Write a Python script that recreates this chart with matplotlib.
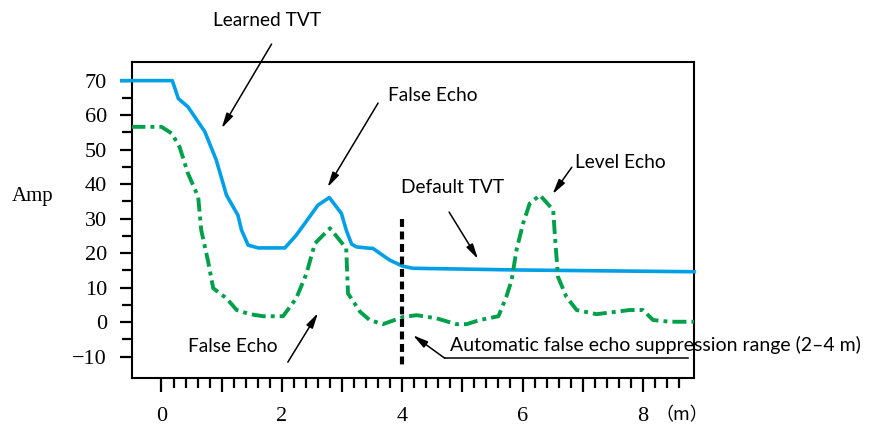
import numpy as np
from matplotlib import pyplot as plt
from matplotlib.ticker import FixedLocator, NullFormatter

# learned TVT (solid blue)
tvt_x = [-0.66, 0.18, 0.28, 0.44, 0.72, 0.91, 1.08, 1.27, 1.33, 1.44, 1.61, 2.05,
         2.24, 2.44, 2.6, 2.79, 2.99, 3.07, 3.16, 3.24, 3.46, 3.51, 3.79, 4.01,
         4.18, 5.96, 8.85]
tvt_y = [70, 70, 64.8, 62.4, 55.2, 47, 36.8, 31, 26.7, 22.3, 21.5, 21.5,
         25.2, 30, 33.9, 36.1, 31.5, 26.7, 22.6, 21.8, 21.4, 21.4, 18, 16.2,
         15.6, 15.1, 14.6]

# echo profile (green dash-dot)
echo_x = [-0.5, 0.0, 0.17, 0.3, 0.44, 0.61, 0.66, 0.77, 0.86, 1.08, 1.25, 1.47,
          1.69, 2.02, 2.24, 2.41, 2.55, 2.8, 3.07, 3.1, 3.3, 3.46, 3.68, 4.02,
          4.24, 4.57, 4.9, 5.07, 5.29, 5.6, 5.73, 5.82, 5.9, 6.01, 6.12, 6.29,
          6.51, 6.54, 6.59, 6.73, 6.9, 7.23, 7.56, 7.78, 8.0, 8.17, 8.45, 8.85]
echo_y = [56.6, 56.6, 54.7, 50.8, 43.1, 36.3, 26.7, 18, 9.8, 6.9, 3.5, 2.3,
          1.7, 1.7, 6.9, 14.1, 22.8, 27.2, 21.4, 8.3, 3, 0.6, -0.6, 1.5,
          2, 1.1, -0.6, -0.6, 0.6, 1.7, 7.3, 12.2, 20.9, 28.6, 34.4, 36.8,
          32.5, 24.7, 13.1, 7.3, 3.5, 2.3, 3, 3.5, 3.5, 0.6, 0.1, 0.1]

x_major = [0, 1, 2, 3, 4, 5, 6, 7, 8]
x_labels = ["0", "", "2", "", "4", "", "6", "", "8"]
y_major = [-10, 0, 10, 20, 30, 40, 50, 60, 70]

BLUE = "#00A0E6"
GREEN = "#00A04A"
serif = ["Liberation Serif", "Noto Sans CJK SC"]
sans = "Lato"

fig = plt.figure(figsize=(8.69, 4.26), dpi=100)
ax = fig.add_axes([0.1519, 0.1127, 0.6467, 0.7418])
ax.set_xlim(-0.49, 8.85)
ax.set_ylim(-16.2, 75.4)

ax.plot(tvt_x, tvt_y, color=BLUE, lw=2.6, clip_on=False, zorder=3)
ax.plot(echo_x, echo_y, color=GREEN, lw=2.8, linestyle=(0, (3.6, 1.3, 1.0, 1.3)),
        dash_capstyle="butt", zorder=3)

# suppression boundary at 4 m
ax.plot([4, 4], [30, -13.3], color="black", lw=3.0, linestyle=(0, (1.9, 1.1)),
        dash_capstyle="butt", zorder=4)

for s in ax.spines.values():
    s.set_linewidth(1.5)

ax.xaxis.set_major_locator(FixedLocator(x_major))
ax.set_xticklabels(x_labels)
ax.xaxis.set_minor_locator(FixedLocator([round(v, 1) for v in np.arange(0.2, 8.7, 0.2)
                                         if abs(v - round(v)) > 1e-6]))
ax.yaxis.set_major_locator(FixedLocator(y_major))
ax.yaxis.set_minor_locator(FixedLocator([-5, 5, 15, 25, 35, 45, 55, 65]))
ax.xaxis.set_minor_formatter(NullFormatter())
ax.tick_params(axis="x", which="major", length=10, width=1.6, pad=11, direction="out")
ax.tick_params(axis="x", which="minor", length=7, width=1.6, direction="out")
ax.tick_params(axis="y", which="major", length=9, width=1.6, pad=9, direction="out")
ax.tick_params(axis="y", which="minor", length=7, width=1.6, direction="out")
for lab in ax.get_xticklabels() + ax.get_yticklabels():
    lab.set_family(serif)
    lab.set_fontsize(16)

ax.text(8.64, -26.9, "（m）", family=["Noto Sans CJK SC"], fontsize=13,
        ha="center", va="center", clip_on=False)
fig.text(33 / 869, 1 - 197 / 426, "Amp", family=serif, fontsize=15,
         ha="center", va="center")

arrow = dict(arrowstyle="-|>,head_length=0.9,head_width=0.22", color="black",
             lw=1.1, shrinkA=0, shrinkB=0)


def label(text, txt_xy, tail, head):
    ax.text(*txt_xy, text, family=sans, fontsize=13.8, ha="center", va="center",
            clip_on=False)
    ax.annotate("", xy=head, xytext=tail, arrowprops=arrow, annotation_clip=False)


label("Learned TVT", (1.75, 87.5), (1.83, 80.6), (1.0, 56.2))
label("False Echo", (4.51, 65.8), (3.6, 63.5), (2.76, 39.1))
label("Level Echo", (7.62, 46.4), (6.82, 44.9), (6.5, 37.1))
label("Default TVT", (4.83, 39.1), (4.78, 31.9), (5.26, 18.3))
label("False Echo", (1.19, -7.0), (2.1, -11.6), (2.6, 2.6))

ax.text(4.8, -6.7, "Automatic false echo suppression range (2\u20134 m)", family=sans,
        fontsize=14, ha="left", va="center", clip_on=False)
ax.annotate("", xy=(4.18, -3.8), xytext=(4.71, -10.5), arrowprops=arrow,
            annotation_clip=False)
ax.plot([4.71, 8.75], [-10.5, -10.5], color="black", lw=1.1, zorder=4)

fig.savefig("out.png", dpi=100)
